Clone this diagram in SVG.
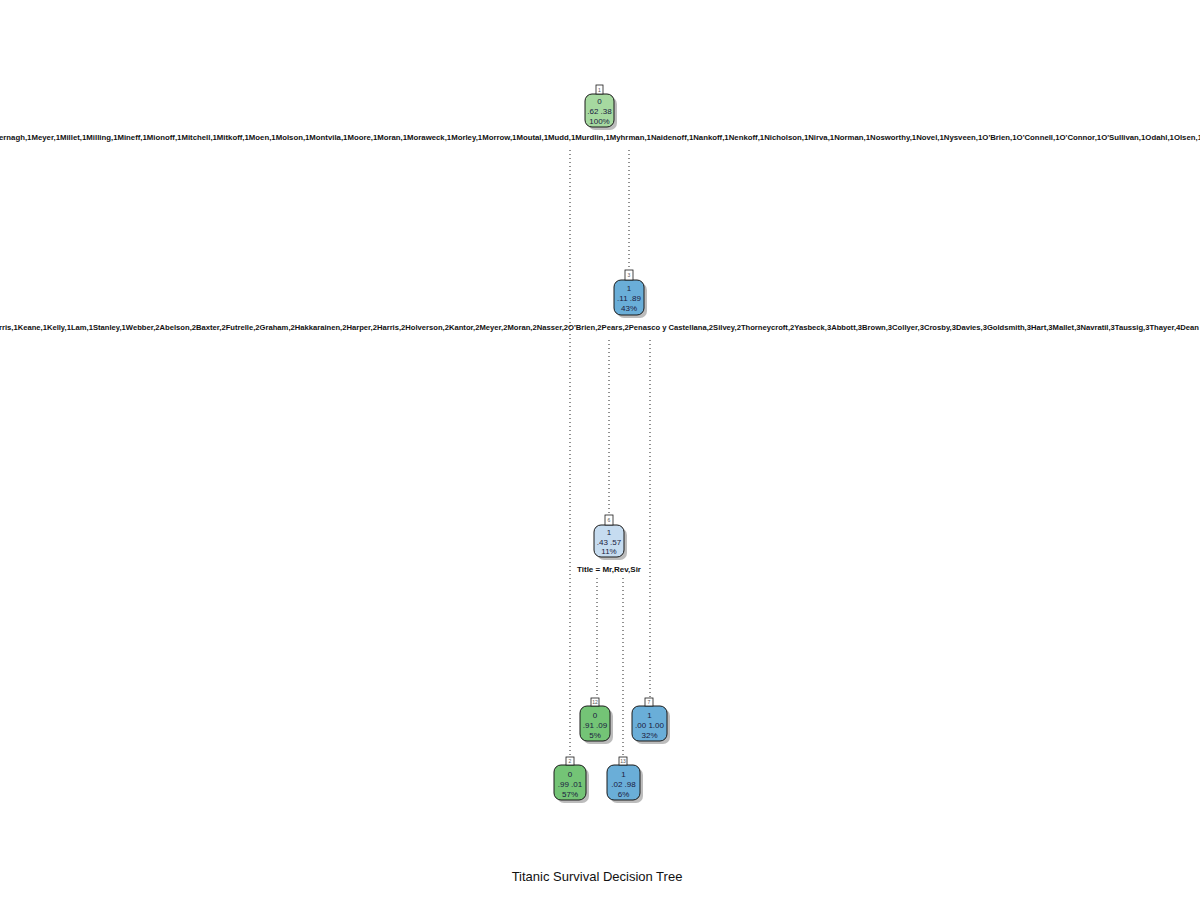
<svg xmlns="http://www.w3.org/2000/svg" width="1200" height="900" viewBox="0 0 1200 900">
<style>
.shadow{fill:#a0a0a0;opacity:0.7}
.box{stroke:#1a1a1a;stroke-width:1}
.num{fill:#fff;stroke:#1a1a1a;stroke-width:0.8}
.numt{font-family:"Liberation Sans",Arial,sans-serif;font-size:5px;fill:#555;text-anchor:middle}
.nt{font-family:"Liberation Sans",Arial,sans-serif;font-size:8px;fill:#1a1a40;text-anchor:middle}
.split{font-family:"Liberation Sans",Arial,sans-serif;font-size:8px;font-weight:bold;fill:#111}
.edge{stroke:#222;stroke-width:1;stroke-dasharray:1,3;fill:none}
.title{font-family:"Liberation Sans",Arial,sans-serif;font-size:13px;fill:#111;text-anchor:middle}
</style>
<rect width="1200" height="900" fill="#fff"/>
<g id="connectors">
<line class="edge" x1="570" y1="150" x2="570" y2="757"/>
<line class="edge" x1="629" y1="150" x2="629" y2="270"/>
<line class="edge" x1="609" y1="340" x2="609" y2="515"/>
<line class="edge" x1="650" y1="340" x2="650" y2="698"/>
<line class="edge" x1="597" y1="578" x2="597" y2="698"/>
<line class="edge" x1="623" y1="578" x2="623" y2="757"/>
</g>
<g id="split-labels">
<text class="split" x="-1" y="140" textLength="1203" lengthAdjust="spacingAndGlyphs">ernagh,1Meyer,1Millet,1Milling,1Mineff,1Mionoff,1Mitchell,1Mitkoff,1Moen,1Molson,1Montvila,1Moore,1Moran,1Moraweck,1Morley,1Morrow,1Moutal,1Mudd,1Murdlin,1Myhrman,1Naidenoff,1Nankoff,1Nenkoff,1Nicholson,1Nirva,1Norman,1Nosworthy,1Novel,1Nysveen,1O'Brien,1O'Connell,1O'Connor,1O'Sullivan,1Odahl,1Olsen,1</text>
<text class="split" x="-1" y="330" textLength="1200" lengthAdjust="spacingAndGlyphs">rris,1Keane,1Kelly,1Lam,1Stanley,1Webber,2Abelson,2Baxter,2Futrelle,2Graham,2Hakkarainen,2Harper,2Harris,2Holverson,2Kantor,2Meyer,2Moran,2Nasser,2O'Brien,2Pears,2Penasco y Castellana,2Silvey,2Thorneycroft,2Yasbeck,3Abbott,3Brown,3Collyer,3Crosby,3Davies,3Goldsmith,3Hart,3Mallet,3Navratil,3Taussig,3Thayer,4Dean</text>
<text class="split" x="609" y="572" text-anchor="middle">Title = Mr,Rev,Sir</text>
</g>
<g id="node1">
<rect class="shadow" x="588" y="97" width="29" height="33" rx="7"/>
<rect class="box" x="585" y="94" width="29" height="33" rx="7" fill="#a6d9a0"/>
<rect class="num" x="596" y="85" width="7" height="9"/>
<text class="numt" x="599.5" y="91.5">1</text>
<text class="nt" x="599.5" y="104">0</text>
<text class="nt" x="599.5" y="114">.62  .38</text>
<text class="nt" x="599.5" y="124">100%</text>
</g>
<g id="node3">
<rect class="shadow" x="617" y="283" width="30" height="35" rx="7"/>
<rect class="box" x="614" y="280" width="30" height="35" rx="7" fill="#6aaed8"/>
<rect class="num" x="625" y="270" width="8" height="10"/>
<text class="numt" x="629" y="277">3</text>
<text class="nt" x="629" y="291">1</text>
<text class="nt" x="629" y="301">.11  .89</text>
<text class="nt" x="629" y="311">43%</text>
</g>
<g id="node6">
<rect class="shadow" x="597" y="528" width="30" height="32" rx="7"/>
<rect class="box" x="594" y="525" width="30" height="32" rx="7" fill="#c6dcf0"/>
<rect class="num" x="605" y="515" width="8" height="10"/>
<text class="numt" x="609" y="522">6</text>
<text class="nt" x="609" y="535">1</text>
<text class="nt" x="609" y="545">.43  .57</text>
<text class="nt" x="609" y="554">11%</text>
</g>
<g id="node12">
<rect class="shadow" x="583" y="709" width="30" height="35" rx="7"/>
<rect class="box" x="580" y="706" width="30" height="35" rx="7" fill="#74c476"/>
<rect class="num" x="591" y="698" width="8" height="8"/>
<text class="numt" x="595" y="704">12</text>
<text class="nt" x="595" y="718">0</text>
<text class="nt" x="595" y="728">.91  .09</text>
<text class="nt" x="595" y="738">5%</text>
</g>
<g id="node7">
<rect class="shadow" x="635" y="709" width="35" height="35" rx="7"/>
<rect class="box" x="632" y="706" width="35" height="35" rx="7" fill="#6aaed8"/>
<rect class="num" x="645" y="698" width="8" height="8"/>
<text class="numt" x="649" y="704">7</text>
<text class="nt" x="649.5" y="718">1</text>
<text class="nt" x="649.5" y="728">.00  1.00</text>
<text class="nt" x="649.5" y="738">32%</text>
</g>
<g id="node2">
<rect class="shadow" x="557" y="768" width="32" height="35" rx="7"/>
<rect class="box" x="554" y="765" width="32" height="35" rx="7" fill="#74c476"/>
<rect class="num" x="566" y="757" width="8" height="8"/>
<text class="numt" x="570" y="763">2</text>
<text class="nt" x="570" y="777">0</text>
<text class="nt" x="570" y="787">.99  .01</text>
<text class="nt" x="570" y="797">57%</text>
</g>
<g id="node13">
<rect class="shadow" x="610" y="768" width="33" height="35" rx="7"/>
<rect class="box" x="607" y="765" width="33" height="35" rx="7" fill="#6aaed8"/>
<rect class="num" x="619" y="757" width="8" height="8"/>
<text class="numt" x="623" y="763">13</text>
<text class="nt" x="623.5" y="777">1</text>
<text class="nt" x="623.5" y="787">.02  .98</text>
<text class="nt" x="623.5" y="797">6%</text>
</g>
<text class="title" x="597" y="881">Titanic Survival Decision Tree</text>
</svg>
